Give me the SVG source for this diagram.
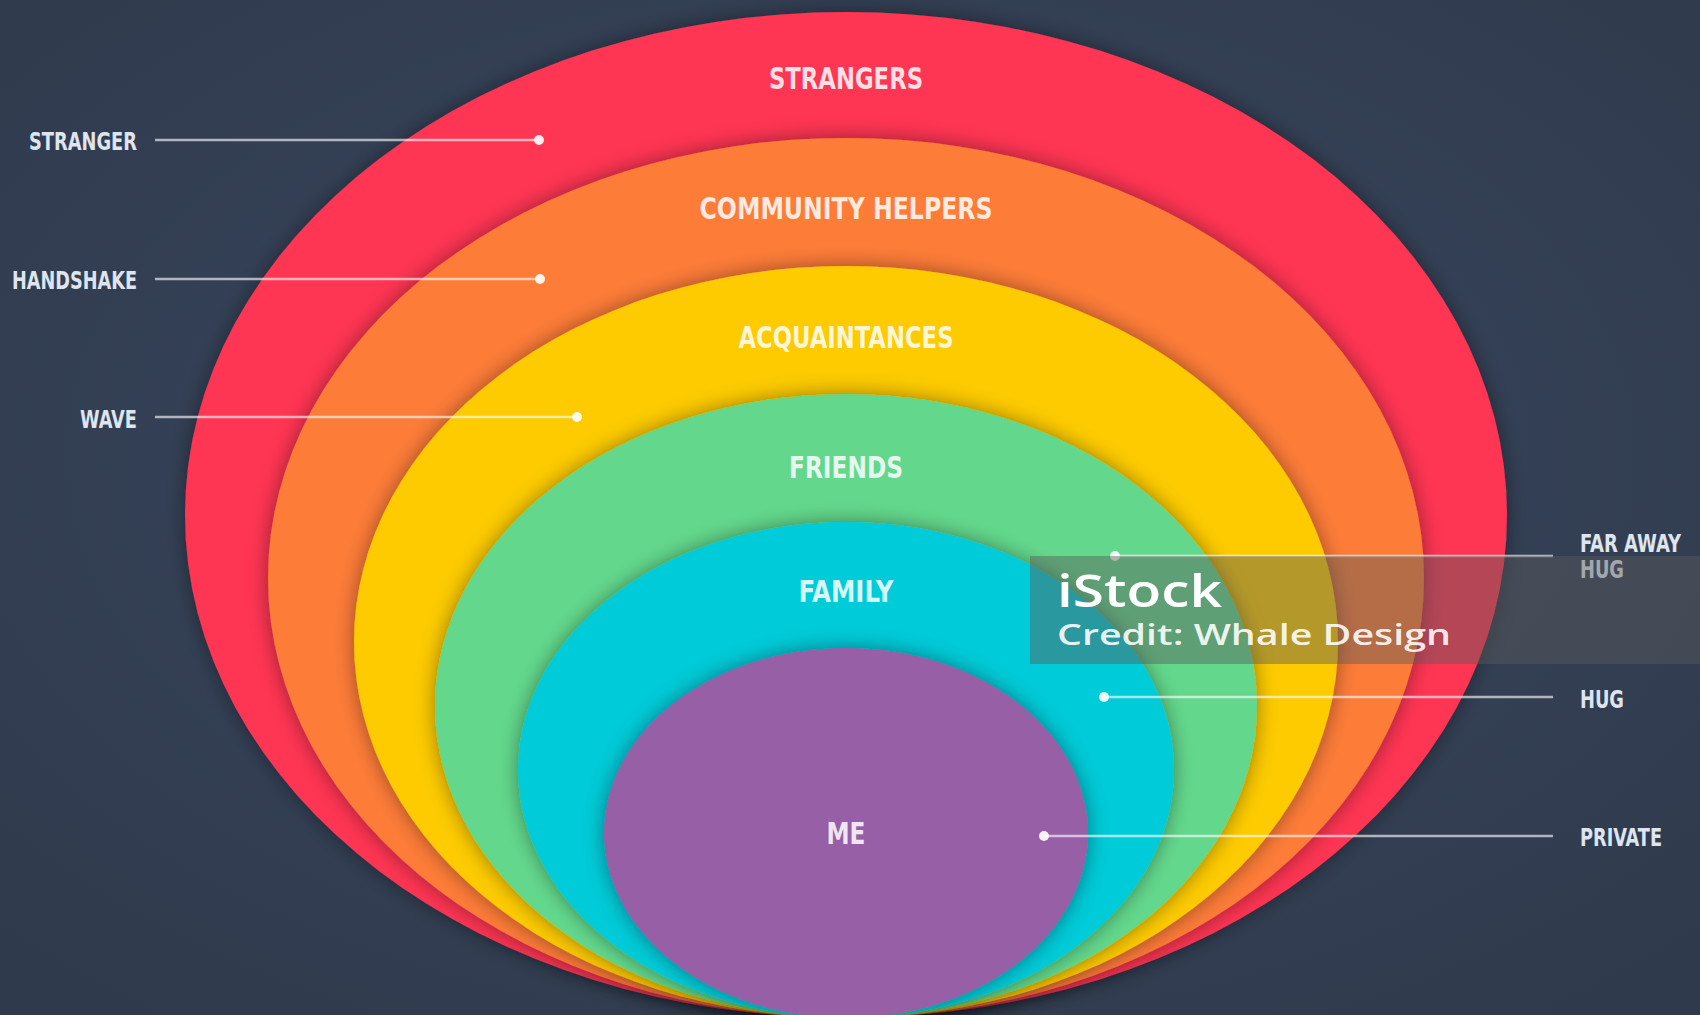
<svg xmlns="http://www.w3.org/2000/svg" width="1700" height="1015" viewBox="0 0 1700 1015">
<defs>
<radialGradient id="bg" cx="50%" cy="45%" r="70%">
<stop offset="0" stop-color="#3a4760"/>
<stop offset="1" stop-color="#2f3a4c"/>
</radialGradient>
<filter id="sh" x="-10%" y="-10%" width="120%" height="120%">
<feDropShadow dx="0" dy="0" stdDeviation="10" flood-color="#000" flood-opacity="0.4"/>
</filter>
<style>
.ring{filter:url(#sh)}
.lbl{font-family:"Liberation Sans Narrow","DejaVu Sans Condensed","Liberation Sans",sans-serif;font-weight:bold;font-size:30px;fill:#fff;fill-opacity:0.85;text-anchor:middle}
.side{font-family:"Liberation Sans Narrow","DejaVu Sans Condensed","Liberation Sans",sans-serif;font-weight:bold;font-size:24px;fill:#dfe5ee}
.ln{stroke:#fff;stroke-opacity:0.62;stroke-width:2.5;fill:none}
.dot{fill:#fff;fill-opacity:0.9}
.wm{font-family:"Open Sans","Liberation Sans",sans-serif;font-weight:600;fill:#fff}
</style>
</defs>
<rect width="1700" height="1015" fill="url(#bg)"/>
<g id="strangers">
<ellipse class="ring" fill="#fe3553" cx="846" cy="515" rx="661" ry="503"/>
<text class="lbl" x="846" y="89" textLength="154" lengthAdjust="spacingAndGlyphs">STRANGERS</text>
</g>
<g id="community">
<ellipse class="ring" fill="#fd7c38" cx="846" cy="578" rx="578" ry="440"/>
<text class="lbl" x="846" y="219" textLength="293" lengthAdjust="spacingAndGlyphs">COMMUNITY HELPERS</text>
</g>
<g id="acquaintances">
<ellipse class="ring" fill="#fdcb05" cx="846" cy="642" rx="492" ry="376"/>
<text class="lbl" x="846" y="348" textLength="215" lengthAdjust="spacingAndGlyphs">ACQUAINTANCES</text>
</g>
<g id="friends">
<ellipse class="ring" fill="#63d88c" cx="846" cy="706" rx="411" ry="312"/>
<text class="lbl" x="846" y="478" textLength="114" lengthAdjust="spacingAndGlyphs">FRIENDS</text>
</g>
<g id="family">
<ellipse class="ring" fill="#05cbd8" cx="846" cy="770" rx="328" ry="248"/>
<text class="lbl" x="846" y="602" textLength="95" lengthAdjust="spacingAndGlyphs">FAMILY</text>
</g>
<g id="me">
<ellipse class="ring" fill="#965ea6" cx="846" cy="833" rx="242" ry="185"/>
<text class="lbl" x="846" y="844" textLength="39" lengthAdjust="spacingAndGlyphs">ME</text>
</g>
<g id="connectors">
<line class="ln" x1="155" y1="140" x2="539" y2="140"/>
<circle class="dot" cx="539" cy="140" r="5"/>
<line class="ln" x1="155" y1="279" x2="540" y2="279"/>
<circle class="dot" cx="540" cy="279" r="5"/>
<line class="ln" x1="155" y1="417" x2="577" y2="417"/>
<circle class="dot" cx="577" cy="417" r="5"/>
<line class="ln" x1="1115" y1="556" x2="1553" y2="556"/>
<circle class="dot" cx="1115" cy="556" r="5"/>
<line class="ln" x1="1104" y1="697" x2="1553" y2="697"/>
<circle class="dot" cx="1104" cy="697" r="5"/>
<line class="ln" x1="1044" y1="836" x2="1553" y2="836"/>
<circle class="dot" cx="1044" cy="836" r="5"/>
</g>
<g id="stranger-label"><text class="side" x="137" y="150" text-anchor="end" textLength="108" lengthAdjust="spacingAndGlyphs">STRANGER</text></g>
<g id="handshake-label"><text class="side" x="137" y="289" text-anchor="end" textLength="125" lengthAdjust="spacingAndGlyphs">HANDSHAKE</text></g>
<g id="wave-label"><text class="side" x="137" y="428" text-anchor="end" textLength="57" lengthAdjust="spacingAndGlyphs">WAVE</text></g>
<g id="faraway-label">
<text class="side" x="1580" y="552" textLength="101" lengthAdjust="spacingAndGlyphs">FAR AWAY</text>
<text class="side" x="1580" y="578" textLength="44" lengthAdjust="spacingAndGlyphs">HUG</text>
</g>
<g id="hug-label"><text class="side" x="1580" y="708" textLength="44" lengthAdjust="spacingAndGlyphs">HUG</text></g>
<g id="private-label"><text class="side" x="1580" y="846" textLength="82" lengthAdjust="spacingAndGlyphs">PRIVATE</text></g>
<g id="watermark">
<rect x="1030" y="556" width="670" height="108" fill="#5a5a5a" fill-opacity="0.45"/>
<text class="wm" x="1057" y="607" font-size="46" textLength="165" lengthAdjust="spacingAndGlyphs">iStock</text>
<text class="wm" x="1057" y="645" font-size="28" fill-opacity="0.9" textLength="394" lengthAdjust="spacingAndGlyphs">Credit: Whale Design</text>
</g>
</svg>
